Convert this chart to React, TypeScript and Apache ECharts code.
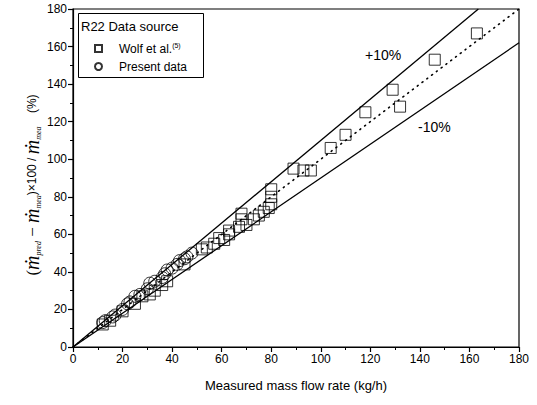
import React, { useEffect, useRef } from "react";
import * as echarts from "echarts";

const xTicks = [0, 20, 40, 60, 80, 100, 120, 140, 160, 180];
const wolfData: number[][] = [
  [12, 12], [15, 14], [20, 19], [25, 23], [28, 27], [31, 28], [33, 30], [36, 33], [38, 35],
  [45, 44], [52, 52], [54, 53], [57, 55], [59, 58], [61, 57], [63, 60], [63, 62], [67, 64],
  [68, 68], [68, 71], [70, 65], [73, 68], [75, 70], [77, 72], [79, 74], [80, 76], [80, 80],
  [80, 84], [89, 95], [93, 94], [96, 94], [104, 106], [110, 113], [118, 125], [129, 137],
  [132, 128], [146, 153], [163, 167],
];
const presentData: number[][] = [
  [12, 13], [13, 14], [16, 16], [17, 17], [20, 20], [22, 23], [23, 24], [25, 27], [27, 28],
  [30, 31], [31, 34], [33, 35], [36, 37], [37, 39], [38, 41], [40, 42], [42, 44], [43, 46],
  [45, 47], [46, 48], [48, 50],
];
const idealLine: number[][] = [[0, 0], [180, 180]];
const plusLine: number[][] = [[0, 0], [163.6, 180]];
const minusLine: number[][] = [[0, 0], [180, 162]];

export default function App() {
  const ref = useRef<HTMLDivElement>(null);
  useEffect(() => {
    if (!ref.current) return;
    document.body.style.margin = "0";
    const chart = echarts.init(ref.current, null, { renderer: "svg" });
    const font = "Arial, 'Liberation Sans', sans-serif";
    const axisCommon = {
      type: "value" as const,
      min: xTicks[0],
      max: xTicks[xTicks.length - 1],
      interval: 20,
      axisLine: { show: true, onZero: false, lineStyle: { color: "#000", width: 1.2 } },
      axisTick: { show: true, inside: false, length: 5, lineStyle: { color: "#000", width: 1.2 } },
      minorTick: { show: true, splitNumber: 2, length: 3, lineStyle: { color: "#000", width: 1 } },
      splitLine: { show: false },
      axisLabel: { color: "#000", fontSize: 12, fontFamily: font, margin: 6 },
    };
    chart.setOption({
      animation: false,
      backgroundColor: "#fff",
      grid: { left: 73, right: 18, top: 9, bottom: 58, show: true, borderColor: "#000", borderWidth: 1.2 },
      xAxis: {
        ...axisCommon,
        name: "Measured mass flow rate (kg/h)",
        nameLocation: "middle",
        nameGap: 32,
        nameTextStyle: { color: "#000", fontSize: 13, fontFamily: font },
      },
      yAxis: { ...axisCommon },
      legend: {
        orient: "vertical",
        left: 89,
        top: 37,
        itemWidth: 7,
        itemHeight: 7,
        itemGap: 6,
        textStyle: {
          color: "#000",
          fontSize: 12,
          fontFamily: font,
          padding: [0, 0, 0, 12],
          rich: { sup: { fontSize: 7, fontFamily: font, color: "#000", verticalAlign: "top", padding: [0, 0, 6, 0] } },
        },
        data: ["Wolf et al.", "Present data"],
        formatter: (n: string) => (n === "Wolf et al." ? "Wolf et al.{sup|(5)}" : n),
      },
      graphic: [
        { type: "rect", shape: { x: 78.5, y: 13.5, width: 125, height: 64 }, style: { fill: "none", stroke: "#000", lineWidth: 1 }, z: 10 },
        { type: "text", x: 81, y: 20, style: { text: "R22 Data source", fill: "#000", font: `13px ${font}` }, z: 10 },
        { type: "text", x: 365, y: 48, style: { text: "+10%", fill: "#000", font: `14px ${font}` } },
        { type: "text", x: 418, y: 120, style: { text: "-10%", fill: "#000", font: `14px ${font}` } },
        {
          type: "text",
          x: 32,
          y: 185,
          rotation: Math.PI / 2,
          style: {
            text: "{p|(}{m|ṁ}{s|pred}{o| − }{m|ṁ}{s|mea}{q|)×100 / }{m|ṁ}{s|mea}{q|    (%)}",
            align: "center",
            verticalAlign: "middle",
            fill: "#000",
            rich: {
              p: { fontSize: 17, fontFamily: "'Liberation Serif', serif", fill: "#000" },
              m: { fontSize: 20, fontStyle: "italic", fontFamily: "'Liberation Serif', 'DejaVu Serif', serif", fill: "#000" },
              s: { fontSize: 8, fontStyle: "italic", fontFamily: "'Liberation Serif', serif", fill: "#000", verticalAlign: "bottom", padding: [8, 0, 0, 0] },
              o: { fontSize: 17, fontFamily: "'Liberation Serif', serif", fill: "#000" },
              q: { fontSize: 12, fontFamily: font, fill: "#000" },
            },
          },
        },
      ],
      series: [
        {
          type: "line",
          data: idealLine,
          symbol: "none",
          lineStyle: { color: "#000", width: 1.6, type: [1, 5], cap: "round" },
          silent: true,
        },
        { type: "line", data: plusLine, symbol: "none", lineStyle: { color: "#000", width: 1.3 }, silent: true },
        { type: "line", data: minusLine, symbol: "none", lineStyle: { color: "#000", width: 1.3 }, silent: true },
        {
          name: "Wolf et al.",
          type: "scatter",
          data: wolfData,
          symbol: "rect",
          symbolSize: 11,
          itemStyle: { color: "rgba(255,255,255,0)", borderColor: "#000", borderWidth: 1 },
        },
        {
          name: "Present data",
          type: "scatter",
          data: presentData,
          symbol: "circle",
          symbolSize: 12,
          itemStyle: { color: "rgba(255,255,255,0)", borderColor: "#000", borderWidth: 1 },
        },
      ],
    });
    return () => chart.dispose();
  }, []);
  return <div ref={ref} style={{ width: 537, height: 405 }} />;
}
